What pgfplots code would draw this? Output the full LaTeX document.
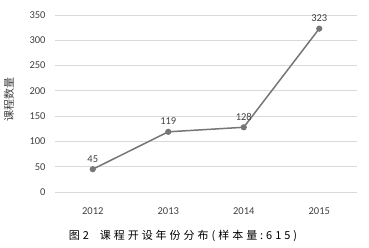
\documentclass[border=0pt]{standalone}
\usepackage{pgfplots}
\pgfplotsset{compat=1.18}
\usepackage{fontspec}
\setmainfont{Carlito}
\newfontfamily\cjk{Noto Sans CJK SC}
\newfontfamily\cjkcap[LetterSpace=27]{Noto Sans CJK SC}
\definecolor{linegray}{HTML}{767676}
\definecolor{gridgray}{HTML}{D9D9D9}
\definecolor{textgray}{HTML}{404040}
\begin{document}
\begin{tikzpicture}
\begin{axis}[
  scale only axis,
  width=302pt, height=177pt,
  xmin=-0.5, xmax=3.5,
  ymin=0, ymax=350,
  ytick={0,50,...,350},
  xtick={0,1,2,3},
  xticklabels={2012,2013,2014,2015},
  axis x line*=bottom, axis y line*=left,
  axis line style={draw=none},
  ymajorgrids,
  major grid style={gridgray, line width=0.8pt},
  major tick length=0pt,
  tick style={draw=none},
  /pgf/number format/assume math mode=true,
  ticklabel style={font=\fontsize{10.5}{12}\selectfont, text=textgray},
  xticklabel style={yshift=-12pt},
  yticklabel style={xshift=-6pt},
  nodes near coords,
  nodes near coords style={font=\fontsize{10.5}{12}\selectfont, text=textgray, anchor=south, yshift=3pt},
  clip=false,
]
\addplot[linegray, line width=1.5pt, mark=*, mark size=2.3pt, mark options={fill=linegray, draw=linegray}]
  coordinates {(0,45) (1,119) (2,128) (3,323)};
\end{axis}
\node[rotate=90, font=\cjk\fontsize{11}{12}\selectfont, text=textgray] at (-46pt,92pt) {课程数量};
\node[font=\cjkcap\fontsize{11}{12}\selectfont, text=black] at (128pt,-44pt) {图2\quad 课程开设年份分布(样本量:615)};
\path[use as bounding box] (-55pt,-56pt) rectangle (314pt,192pt);
\end{tikzpicture}
\end{document}
